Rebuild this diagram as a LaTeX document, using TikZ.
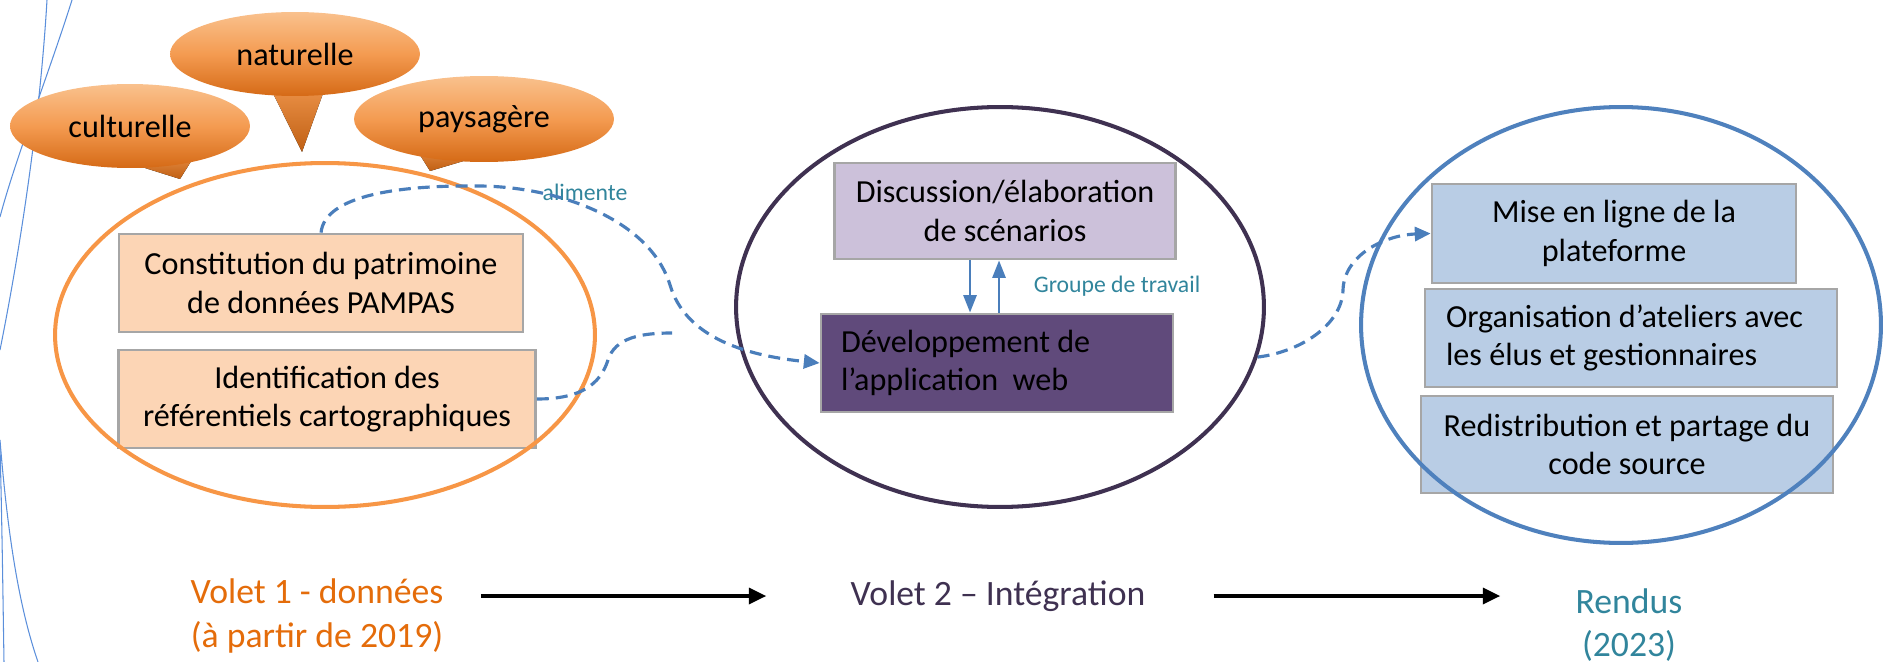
\documentclass[tikz,border=0pt]{standalone}
\usepackage{fontspec}
\setmainfont{Carlito}
\usepackage{xcolor}
\definecolor{pale-peach}{HTML}{FCD5B5}
\definecolor{pale-lilac}{HTML}{CCC1DA}
\definecolor{deep-purple}{HTML}{604A7B}
\definecolor{pale-blue}{HTML}{B9CDE5}
\definecolor{edge-grey}{HTML}{A6A6A6}
\definecolor{ring-orange}{HTML}{F79646}
\definecolor{ring-purple}{HTML}{3F3151}
\definecolor{ring-blue}{HTML}{4F81BD}
\definecolor{link-blue}{HTML}{4A7EBB}
\definecolor{note-teal}{HTML}{31859C}
\definecolor{label-orange}{HTML}{E46C0A}
\definecolor{deco-blue}{HTML}{5B8FDB}
\definecolor{bubble-top}{HTML}{F9C18D}
\definecolor{bubble-mid}{HTML}{F49B51}
\definecolor{bubble-bot}{HTML}{D56A16}
\usepackage{tikz}
\usetikzlibrary{shapes.geometric}
\usetikzlibrary{arrows.meta}
\tikzset{box/.style = {draw=edge-grey, line width=1.6pt, align=center, inner sep=0pt, font=\fontsize{18.3}{21.8}\selectfont}}
\tikzset{ring/.style = {draw, ellipse, line width=2.3pt, inner sep=0pt}}
\tikzset{bubble/.style = {ellipse, inner sep=0pt, top color=bubble-top, bottom color=bubble-bot, middle color=bubble-mid, font=\fontsize{18.3}{21.8}\selectfont}}
\tikzset{tail/.style = {top color=bubble-mid, bottom color=bubble-bot!90!black}}
\tikzset{note/.style = {note-teal, inner sep=0pt, font=\fontsize{13.5}{16}\selectfont}}
\tikzset{phase/.style = {inner sep=0pt, align=center, font=\fontsize{20.3}{24.7}\selectfont}}
\tikzset{link/.style = {link-blue, line width=1.8pt, dash pattern=on 6.8pt off 4pt, -{Triangle[length=9pt, width=8pt]}}}
\tikzset{arr/.style = {link-blue, line width=1.4pt, -{Triangle[length=10pt, width=7.5pt]}}}
\tikzset{flow/.style = {line width=2.2pt, -{Triangle[length=10pt, width=9pt]}}}

\begin{document}
\begin{tikzpicture}[x=0.02cm, y=-0.02cm]
\useasboundingbox (0,0) rectangle (1885,662);

% slide decoration on the left
\draw[deco-blue, line width=0.6pt] (47,0) .. controls (40,120) and (20,250) .. (0,350);
\draw[deco-blue, line width=0.6pt] (72,0) .. controls (50,70) and (15,160) .. (0,217);
\draw[deco-blue, line width=0.6pt] (0,447) .. controls (2,520) and (3,600) .. (4,662);
\draw[deco-blue, line width=0.6pt] (0,440) .. controls (8,540) and (20,610) .. (38,662);

% speech bubbles (tails first, ellipses on top)
\fill[tail] (110,157) -- (180,179) -- (200,147) -- cycle;
\fill[tail] (264,75) -- (302,152) -- (330,74) -- cycle;
\fill[tail] (410,139) -- (430,171) -- (504,149) -- cycle;
\node[bubble, minimum width=4.8cm, minimum height=1.68cm] (cult) at (130,126) {culturelle};
\node[bubble, minimum width=5cm, minimum height=1.68cm] (natur) at (295,54) {naturelle};
\node[bubble, minimum width=5.2cm, minimum height=1.72cm] (paysa) at (484,119) {paysagère};

\node[box, fill=pale-peach, minimum width=8.08cm, minimum height=1.96cm] (patri) at (321,283) {Constitution du patrimoine\\de données PAMPAS};
\node[box, fill=pale-peach, minimum width=8.34cm, minimum height=1.96cm] (refer) at (327,399) {Identification des\\référentiels cartographiques};
\node[box, fill=pale-lilac, minimum width=6.82cm, minimum height=1.92cm] (scen) at (1005,211) {Discussion/élaboration\\de scénarios};
\node[box, fill=deep-purple, align=flush left, text width=6.24cm, inner xsep=0.4cm, minimum height=1.96cm] (devweb) at (997,363) {Développement de\\l’application~ web};
\node[box, fill=pale-blue, minimum width=7.28cm, minimum height=1.98cm] (enligne) at (1614,233.5) {Mise en ligne de la\\plateforme};
\node[box, fill=pale-blue, align=flush left, text width=7.4cm, inner xsep=0.42cm, minimum height=1.96cm] (ateliers) at (1631,338) {Organisation d’ateliers avec\\les élus et gestionnaires};
\node[box, fill=pale-blue, minimum width=8.24cm, minimum height=1.94cm] (partage) at (1627,444.5) {Redistribution et partage du\\code source};

\node[ring, draw=ring-orange, minimum width=10.8cm, minimum height=6.88cm] (volet1) at (325,335) {};
\node[ring, draw=ring-purple, minimum width=10.56cm, minimum height=8cm] (volet2) at (1000,307) {};
\node[ring, draw=ring-blue, minimum width=10.4cm, minimum height=8.72cm] (rendus) at (1621,325) {};

\node[note] (alim) at (585,192) {alimente};
\node[note] (groupe) at (1117,286) {Groupe de travail};

\node[phase, label-orange] (lbl1) at (317,616) {Volet 1 - données\\(à partir de 2019)};
\node[phase, ring-purple] (lbl2) at (998,596) {Volet 2 – Intégration};
\node[phase, note-teal] (lbl3) at (1629,625) {Rendus\\(2023)};

\coordinate (junction) at (672,333);
\draw[link] (patri.north) .. controls (325,195) and (400,185) .. (480,186)
  .. controls (560,187) and (650,220) .. (670,285)
  .. controls (685,335) and (740,355) .. (devweb.west);
\draw[link, -] (refer.east) .. controls (580,399) and (600,385) .. (608,360)
  .. controls (615,338) and (640,333) .. (junction);
\draw[link] (volet2.-11) .. controls (1300,352) and (1342,325) .. (1343,290)
  .. controls (1344,255) and (1385,235) .. (enligne.west);

\path ([xshift=-0.7cm]scen.south) coordinate (down) ([xshift=-0.12cm]scen.south) coordinate (up);
\draw[arr] (down) -- (down |- devweb.north);
\draw[arr] (up |- devweb.north) -- (up);

\draw[flow, shorten <=0.74cm, shorten >=1.68cm] (lbl1.east |- lbl2.west) -- (lbl2.west);
\draw[flow, shorten <=1.36cm, shorten >=1.5cm] (lbl2.east) -- (lbl2.east -| lbl3.west);

\end{tikzpicture}
\end{document}
